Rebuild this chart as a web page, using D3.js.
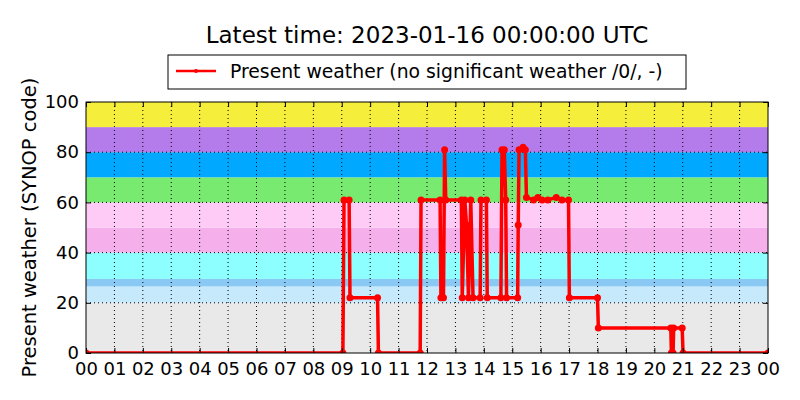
<!DOCTYPE html>
<html>
<head>
<meta charset="utf-8">
<script src="https://d3js.org/d3.v7.min.js"></script>
<style>
  body { margin: 0; background: #fff; }
  text { font-family: "DejaVu Sans", sans-serif; fill: #000; }
</style>
</head>
<body>
<svg id="chart" width="800" height="400"></svg>
<script>
// hours since 00 UTC and the SYNOP present weather code
var hours = [0, 9.04, 9.08, 9.26, 9.29, 10.26, 10.29, 11.76, 11.79, 12.46, 12.49, 12.58, 12.62, 12.66,
  13.21, 13.24, 13.33, 13.39, 13.46, 13.54, 13.62, 13.87, 13.9, 14.09, 14.12, 14.6, 14.64, 14.72,
  14.77, 14.8, 15.19, 15.21, 15.24, 15.38, 15.46, 15.5, 15.75, 15.9, 16.05, 16.25, 16.55, 16.75,
  16.98, 17.01, 18.0, 18.03, 20.58, 20.6, 20.66, 20.68, 20.98, 21.01, 24];
var codes = [0, 0, 61, 61, 22, 22, 0, 0, 61, 61, 22, 22, 81, 61,
  61, 22, 61, 51, 22, 61, 22, 22, 61, 61, 22, 22, 81, 81,
  61, 22, 22, 51, 81, 82, 81, 62, 61, 62, 61, 61, 62, 61,
  61, 22, 22, 10, 10, 0, 0, 10, 10, 0, 0];

// coloured background bands
var bandLo = [0, 20, 26.5, 29.5, 40, 50, 60, 70, 80, 90];
var bandHi = [20, 26.5, 29.5, 40, 50, 60, 70, 80, 90, 100];
var bandColors = ["#e9e9e9", "#c6eafc", "#8ac9f4", "#8cfffe", "#f5b0ec", "#fdcbf5",
  "#78ea70", "#00a8ff", "#b47ceb", "#f5ef3c"];

var xTicks = d3.range(0, 25);
var yTicks = [0, 20, 40, 60, 80, 100];

var svg = d3.select("#chart"),
    margin = {top: 102, right: 32, bottom: 47, left: 86},
    width = 800 - margin.left - margin.right,
    height = 400 - margin.top - margin.bottom,
    g = svg.append("g").attr("transform", "translate(" + margin.left + "," + margin.top + ")");

var x = d3.scaleLinear().domain([0, 24]).range([0, width]);
var y = d3.scaleLinear().domain([0, 100]).range([height, 0]);

g.selectAll(".band")
  .data(bandColors)
  .enter().append("rect")
    .attr("x", 0)
    .attr("width", width)
    .attr("y", function(d, i) { return y(bandHi[i]); })
    .attr("height", function(d, i) { return y(bandLo[i]) - y(bandHi[i]); })
    .attr("fill", function(d) { return d; });

// dotted grid
g.selectAll(".vgrid")
  .data(xTicks.slice(1, -1))
  .enter().append("line")
    .attr("x1", function(d) { return x(d); })
    .attr("x2", function(d) { return x(d); })
    .attr("y1", 0).attr("y2", height)
    .attr("stroke", "#000").attr("stroke-width", 1)
    .attr("stroke-dasharray", "1,3");
g.selectAll(".hgrid")
  .data(yTicks.slice(1, -1))
  .enter().append("line")
    .attr("x1", 0).attr("x2", width)
    .attr("y1", function(d) { return y(d); })
    .attr("y2", function(d) { return y(d); })
    .attr("stroke", "#000").attr("stroke-width", 1)
    .attr("stroke-dasharray", "1,3");

svg.append("clipPath").attr("id", "clip")
  .append("rect").attr("width", width).attr("height", height);

var line = d3.line()
  .x(function(d, i) { return x(hours[i]); })
  .y(function(d) { return y(d); });

var plot = g.append("g").attr("clip-path", "url(#clip)");
plot.append("path")
  .datum(codes)
  .attr("fill", "none")
  .attr("stroke", "#ff0000")
  .attr("stroke-width", 3.5)
  .attr("stroke-linejoin", "round")
  .attr("d", line);
plot.selectAll(".pt")
  .data(codes)
  .enter().append("circle")
    .attr("cx", function(d, i) { return x(hours[i]); })
    .attr("cy", function(d) { return y(d); })
    .attr("r", 3.5)
    .attr("fill", "#ff0000");

// axes, ticks pointing inwards
g.append("g")
  .attr("transform", "translate(0," + height + ")")
  .call(d3.axisBottom(x).tickValues(xTicks).tickSizeInner(-5).tickSizeOuter(0).tickPadding(9)
    .tickFormat(function(d) { return d3.format("02d")(d % 24); }));
g.append("g")
  .call(d3.axisTop(x).tickValues(xTicks).tickSizeInner(-5).tickSizeOuter(0).tickFormat(""));
g.append("g")
  .call(d3.axisLeft(y).tickValues(yTicks).tickSizeInner(-5).tickSizeOuter(0).tickPadding(7));
g.append("g")
  .attr("transform", "translate(" + width + ",0)")
  .call(d3.axisRight(y).tickValues(yTicks).tickSizeInner(-5).tickSizeOuter(0).tickFormat(""));
g.selectAll(".domain").remove();
g.selectAll(".tick line").attr("stroke", "#000");
g.selectAll(".tick text").style("font-size", "18px").style("font-family", "DejaVu Sans");

g.append("rect")
  .attr("width", width).attr("height", height)
  .attr("fill", "none").attr("stroke", "#000").attr("stroke-width", 1);

svg.append("text")
  .attr("x", margin.left + width / 2).attr("y", 43)
  .attr("text-anchor", "middle")
  .style("font-size", "23px")
  .text("Latest time: 2023-01-16 00:00:00 UTC");

svg.append("text")
  .attr("transform", "translate(36," + (margin.top + height / 2) + ") rotate(-90)")
  .attr("text-anchor", "middle")
  .style("font-size", "19.5px")
  .text("Present weather (SYNOP code)");

// legend
var leg = svg.append("g").attr("transform", "translate(168,55)");
leg.append("rect").attr("width", 518).attr("height", 34)
  .attr("fill", "#fff").attr("stroke", "#000").attr("stroke-width", 1);
leg.append("line").attr("x1", 8).attr("x2", 48).attr("y1", 16).attr("y2", 16)
  .attr("stroke", "#ff0000").attr("stroke-width", 2.5);
leg.append("circle").attr("cx", 28).attr("cy", 16).attr("r", 2).attr("fill", "#ff0000");
leg.append("text").attr("x", 62).attr("y", 23)
  .style("font-size", "18.8px")
  .text("Present weather (no significant weather /0/, -)");
</script>
</body>
</html>
